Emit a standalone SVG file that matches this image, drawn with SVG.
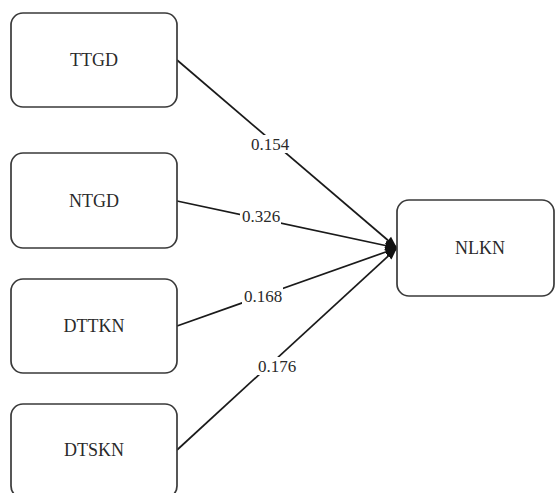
<svg xmlns="http://www.w3.org/2000/svg" width="558" height="493" viewBox="0 0 558 493">
<style>
.box{fill:#fff;stroke:#3a3a3a;stroke-width:1.7}
.t{font-family:"Liberation Serif","Times New Roman",serif;font-size:17px;fill:#2a2a2a;text-anchor:middle}
.n{font-size:18px}
.e{stroke:#1a1a1a;stroke-width:1.7;fill:none;marker-end:url(#ah)}
.bg{fill:#fff}
</style>
<defs>
<marker id="ah" viewBox="0 0 10 10" refX="10" refY="5" markerWidth="7" markerHeight="7" markerUnits="strokeWidth" orient="auto">
<path d="M0,1 L10,5 L0,9 z" fill="#111"/>
</marker>
</defs>
<rect width="558" height="493" fill="#fff"/>
<g id="edges">
<line class="e" x1="177" y1="60" x2="397" y2="248"/>
<line class="e" x1="177" y1="201" x2="397" y2="248"/>
<line class="e" x1="177" y1="326" x2="397" y2="248"/>
<line class="e" x1="177" y1="450" x2="397" y2="248"/>
<rect class="bg" x="249" y="135" width="41" height="18"/>
<text class="t" x="270" y="150">0.154</text>
<rect class="bg" x="240" y="207" width="41" height="18"/>
<text class="t" x="261" y="222">0.326</text>
<rect class="bg" x="242" y="287" width="41" height="18"/>
<text class="t" x="263" y="302">0.168</text>
<rect class="bg" x="256" y="357" width="41" height="18"/>
<text class="t" x="277" y="372">0.176</text>
</g>
<g id="TTGD"><rect class="box" x="11" y="13" width="166" height="94" rx="12"/><text class="t n" x="94" y="66">TTGD</text></g>
<g id="NTGD"><rect class="box" x="11" y="153" width="166" height="95" rx="12"/><text class="t n" x="94" y="207">NTGD</text></g>
<g id="DTTKN"><rect class="box" x="11" y="279" width="166" height="94" rx="12"/><text class="t n" x="94" y="332">DTTKN</text></g>
<g id="DTSKN"><rect class="box" x="11" y="404" width="166" height="94" rx="12"/><text class="t n" x="94" y="456">DTSKN</text></g>
<g id="NLKN"><rect class="box" x="397" y="200" width="157" height="96" rx="12"/><text class="t n" x="480" y="254">NLKN</text></g>
</svg>
